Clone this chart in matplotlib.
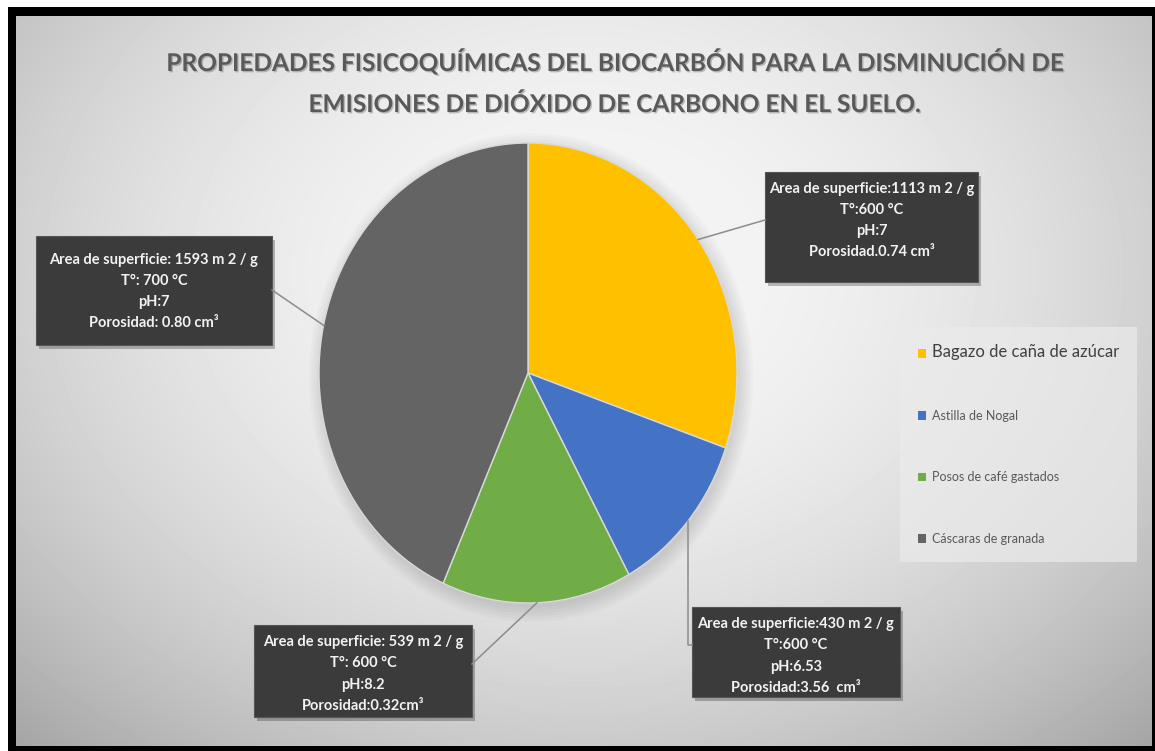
import numpy as np
import matplotlib.pyplot as plt
from matplotlib.patches import Rectangle, Ellipse
import matplotlib.patheffects as pe

plt.rcParams['font.family'] = ['Lato', 'DejaVu Sans']

# data
categories = ['Bagazo de caña de azúcar', 'Astilla de Nogal',
              'Posos de café gastados', 'Cáscaras de granada']
area_superficie = [1113, 430, 539, 1593]   # m2/g
temperatura = ['T°:600 °C', 'T°:600 °C', 'T°: 600 °C', 'T°: 700 °C']
ph_labels = ['pH:7', 'pH:6.53', 'pH:8.2', 'pH:7']
area_labels = ['Area de superficie:1113 m 2 / g', 'Area de superficie:430 m 2 / g',
               'Area de superficie: 539 m 2 / g', 'Area de superficie: 1593 m 2 / g']
porosidad_labels = ['Porosidad.0.74 cm³', 'Porosidad:3.56  cm³',
                    'Porosidad:0.32cm³', 'Porosidad: 0.80 cm³']
colors = ['#FFC000', '#4472C4', '#70AD47', '#646464']

title = ('PROPIEDADES FISICOQUÍMICAS DEL BIOCARBÓN PARA LA DISMINUCIÓN DE\n'
         'EMISIONES DE DIÓXIDO DE CARBONO EN EL SUELO.')

W, H = 1155, 751
fig = plt.figure(figsize=(W / 100, H / 100), dpi=100)
fig.patch.set_facecolor('white')

# background: black frame + radial grey gradient
bg = fig.add_axes([0, 0, 1, 1], zorder=0)
bg.add_patch(Rectangle((8, 7), W - 8, H - 7, facecolor='black', edgecolor='none'))
yy, xx = np.mgrid[0:1:200j, 0:1:300j]
r2 = ((xx - 0.5) / 0.75) ** 2 + ((yy - 0.35) / 0.9) ** 2
grad = np.clip(0.965 - 0.33 * r2, 0, 1)
bg.imshow(grad, cmap='gray', vmin=0, vmax=1, extent=(16, 1152, 746, 16),
          aspect='auto', interpolation='bicubic', zorder=2)
bg.set_xlim(0, W)
bg.set_ylim(H, 0)
bg.axis('off')

# pie (elliptical, as in the original)
ax = fig.add_axes([319 / W, (H - 603) / H, 418 / W, 460 / H], zorder=1)
ax.patch.set_alpha(0)
for i in range(6):
    ax.add_patch(Ellipse((0.015, -0.02), 2.0 + 0.025 * i, 2.0 + 0.025 * i,
                         facecolor='black', alpha=0.02, edgecolor='none', clip_on=False))
wedges, _ = ax.pie(area_superficie, colors=colors, startangle=90, counterclock=False,
                   wedgeprops=dict(edgecolor='#d9d9d9', linewidth=1))
ax.set_aspect('auto')
ax.set_xlim(-1, 1)
ax.set_ylim(-1, 1)
ax.axis('off')

# overlay in pixel coordinates
ov = fig.add_axes([0, 0, 1, 1], zorder=2)
ov.set_xlim(0, W)
ov.set_ylim(H, 0)
ov.axis('off')
ov.patch.set_alpha(0)

ov.text(614, 82, title, ha='center', va='center', fontsize=17.6, fontweight='bold',
        color='#595959', linespacing=1.9,
        path_effects=[pe.SimplePatchShadow(offset=(1, -1), alpha=0.25), pe.Normal()])


def pie_point(w):
    ang = np.deg2rad((w.theta1 + w.theta2) / 2)
    disp = ax.transData.transform((np.cos(ang), np.sin(ang)))
    return disp[0], H - disp[1]


# label boxes: (x0, y0, x1, y1), text centre y, leader end points
boxes = [(765, 172, 978, 282), (692, 607, 900, 697), (254, 625, 472, 717), (36, 236, 272, 345)]
text_y = [220.5, 656, 674, 291.5]
leaders = [[(765, 220)], [None, (692, 645)], [(472, 664)], [(272, 290)]]

for i, w in enumerate(wedges):
    px, py = pie_point(w)
    pts = [(px, py)]
    for p in leaders[i]:
        if p is None:
            pts.append((px, 645))
        else:
            pts.append(p)
    xs, ys = zip(*pts)
    ov.plot(xs, ys, color='#8c8c8c', lw=1.1)
    x0, y0, x1, y1 = boxes[i]
    ov.add_patch(Rectangle((x0 + 3, y0 + 4), x1 - x0, y1 - y0, facecolor='black',
                           alpha=0.25, edgecolor='none'))
    ov.add_patch(Rectangle((x0, y0), x1 - x0, y1 - y0, facecolor='#3b3b3b',
                           edgecolor='#555555', lw=0.8))
    txt = '\n'.join([area_labels[i], temperatura[i], ph_labels[i], porosidad_labels[i]])
    ov.text((x0 + x1) / 2, text_y[i], txt, ha='center', va='center',
            fontsize=10.5, fontweight='bold', color='#f2f2f2', linespacing=1.65)

leg = ov.legend(wedges, categories, loc='upper left', bbox_to_anchor=(900, 327),
                bbox_transform=ov.transData, fontsize=9, frameon=True, fancybox=False,
                facecolor='#ebebeb', edgecolor='none', framealpha=0.7,
                handlelength=0.7, handleheight=0.7, handletextpad=0.5,
                labelspacing=3.95, borderpad=1.4, borderaxespad=0)
for j, t in enumerate(leg.get_texts()):
    t.set_color('#404040' if j == 0 else '#595959')
leg.get_texts()[0].set_fontsize(12)
for h in leg.legend_handles:
    h.set_edgecolor('none')

fig.savefig('out.png', dpi=100)
